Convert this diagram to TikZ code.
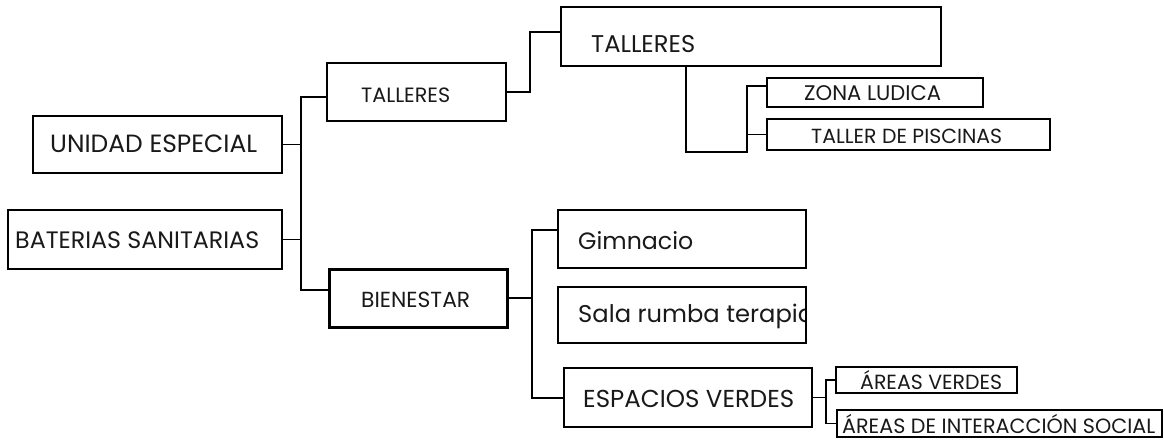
\documentclass[tikz,border=0pt]{standalone}
\usepackage{fontspec}
\setmainfont{Poppins}
\usetikzlibrary{calc}
\newcommand{\fw}[2]{\resizebox{#1pt}{!}{#2}}
\begin{document}
\begin{tikzpicture}[x=1pt,y=-1pt,
  box/.style={draw,line width=2.2pt,inner sep=0pt},
  wire/.style={line width=1.8pt},
  lbl/.style={inner sep=0pt,anchor=base west,text=black!90}]
\useasboundingbox (0,0) rectangle (1164,440);

% Sala rumba terapia text (clipped at the box edge)
\begin{scope}
\clip (558,287) rectangle (806,343);
\node[lbl] (sr-t) at (578,322) {\fw{236}{Sala rumba terapia}};
\end{scope}

% boxes
\node[box,minimum width=249pt,minimum height=57pt] (ue) at (157.5,144.5) {};
\node[box,minimum width=274pt,minimum height=59pt] (bs) at (145,239.5) {};
\node[box,minimum width=179pt,minimum height=58pt] (tm) at (416.5,92) {};
\node[box,line width=3pt,minimum width=178pt,minimum height=58pt] (bi) at (418,298) {};
\node[box,minimum width=380pt,minimum height=59pt] (bt) at (751,36.5) {};
\node[box,minimum width=216pt,minimum height=29pt] (zl) at (875,92.5) {};
\node[box,minimum width=283pt,minimum height=31pt] (pi) at (908.5,134.5) {};
\node[box,minimum width=248pt,minimum height=58pt] (gy) at (682,239) {};
\node[box,minimum width=248pt,minimum height=56pt] (sr) at (682,315) {};
\node[box,minimum width=248pt,minimum height=59pt] (ev) at (688,397.5) {};
\node[box,minimum width=181pt,minimum height=26pt] (av) at (926.5,380) {};
\node[box,minimum width=325pt,minimum height=27pt] (ai) at (999.5,423.5) {};

% labels
\node[lbl] (ue-t) at (50,152) {\fw{207}{UNIDAD ESPECIAL}};
\node[lbl] (bs-t) at (15,248) {\fw{244}{BATERIAS SANITARIAS}};
\node[lbl] (tm-t) at (361,102) {\fw{89}{TALLERES}};
\node[lbl] (bi-t) at (361,307) {\fw{109}{BIENESTAR}};
\node[lbl] (bt-t) at (591,52) {\fw{104}{TALLERES}};
\node[lbl] (zl-t) at (804,100) {\fw{137}{ZONA LUDICA}};
\node[lbl] (pi-t) at (811,143) {\fw{191}{TALLER DE PISCINAS}};
\node[lbl] (gy-t) at (578,249) {\fw{115}{Gimnacio}};
\node[lbl] (ev-t) at (583,407) {\fw{211}{ESPACIOS VERDES}};
\node[lbl] (av-t) at (860,389) {\fw{142}{ÁREAS VERDES}};
\node[lbl] (ai-t) at (842,433) {\fw{313}{ÁREAS DE INTERACCIÓN SOCIAL}};

% junction points
\coordinate (trT) at (301,97);
\coordinate (trB) at (301,290);
\coordinate (k1) at (530,32);
\coordinate (k2) at (686,152);
\coordinate (k3) at (747,152);
\coordinate (k4) at (747,86);
\coordinate (b1) at (532,230);
\coordinate (b2) at (532,398);
\coordinate (e1) at (826,380);
\coordinate (e2) at (826,423.5);

% connectors
\draw[wire] (tm.west |- trT) -- (trT) -- (trB) -- (bi.west |- trB);
\draw[wire] (ue.east) -- (ue.east -| trT);
\draw[wire] (bs.east) -- (bs.east -| trT);
\draw[wire] (tm.east) -| (k1) -- (bt.west |- k1);
\draw[wire] (bt.south -| k2) -- (k2) -- (k3) -- (k4) -- (zl.west |- k4);
\draw[wire] (pi.west) -- (pi.west -| k3);
\draw[wire] (gy.west |- b1) -- (b1) -- (b2) -- (ev.west |- b2);
\draw[wire] (bi.east) -- (bi.east -| b1);
\draw[wire] (av.west) -- (av.west -| e1) -- (e2) -- (ai.west);
\draw[wire] (ev.east) -- (ev.east -| e1);
\end{tikzpicture}
\end{document}
